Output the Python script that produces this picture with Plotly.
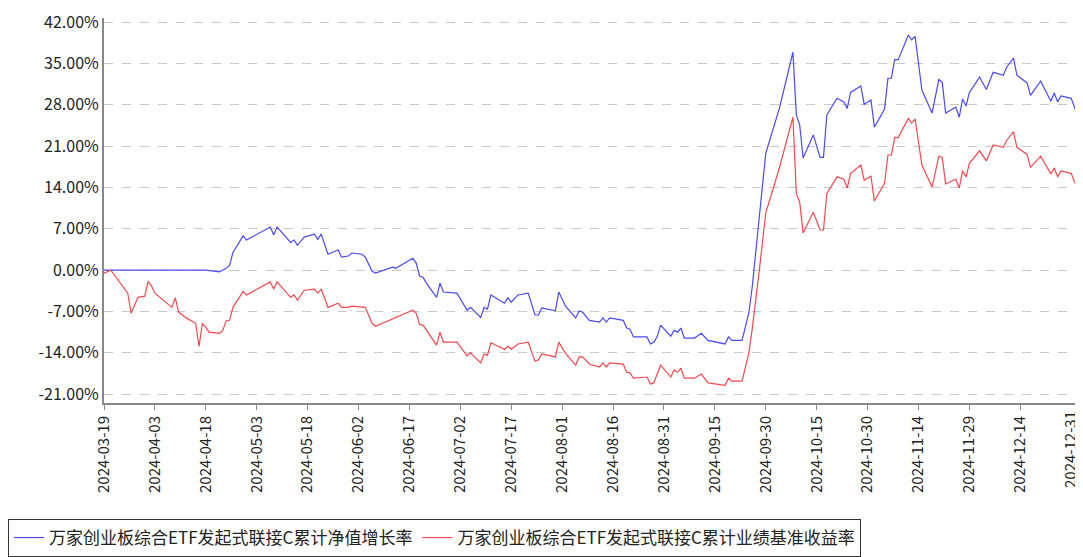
import plotly.graph_objects as go

blue_dates = ["2024-03-19","2024-04-18","2024-04-22","2024-04-24","2024-04-25","2024-04-26","2024-04-29","2024-04-30",
"2024-05-07","2024-05-08","2024-05-09","2024-05-13","2024-05-14","2024-05-15","2024-05-17","2024-05-20","2024-05-21","2024-05-22",
"2024-05-24","2024-05-27","2024-05-28","2024-05-30","2024-05-31","2024-06-03","2024-06-04","2024-06-06","2024-06-07","2024-06-12",
"2024-06-13","2024-06-18","2024-06-19","2024-06-20","2024-06-21","2024-06-22","2024-06-25","2024-06-26","2024-06-27","2024-07-01",
"2024-07-04","2024-07-05","2024-07-08","2024-07-09","2024-07-10","2024-07-11","2024-07-15","2024-07-16","2024-07-17","2024-07-19",
"2024-07-22","2024-07-24","2024-07-25","2024-07-26","2024-07-30","2024-07-31","2024-08-02","2024-08-05","2024-08-06","2024-08-07",
"2024-08-09","2024-08-12","2024-08-13","2024-08-14","2024-08-15","2024-08-19","2024-08-20","2024-08-21","2024-08-22","2024-08-26",
"2024-08-27","2024-08-28","2024-08-29","2024-08-30","2024-09-02","2024-09-03","2024-09-04","2024-09-05","2024-09-06","2024-09-09",
"2024-09-11","2024-09-13","2024-09-18","2024-09-19","2024-09-20","2024-09-23","2024-09-25","2024-09-26","2024-09-28","2024-09-30",
"2024-10-04","2024-10-08","2024-10-09","2024-10-10","2024-10-11","2024-10-14","2024-10-16","2024-10-17","2024-10-18","2024-10-21",
"2024-10-23","2024-10-24","2024-10-25","2024-10-28","2024-10-29","2024-10-31","2024-11-01","2024-11-04","2024-11-05","2024-11-06",
"2024-11-07","2024-11-08","2024-11-11","2024-11-12","2024-11-13","2024-11-15","2024-11-18","2024-11-20","2024-11-21","2024-11-22",
"2024-11-25","2024-11-26","2024-11-27","2024-11-28","2024-11-29","2024-12-02","2024-12-04","2024-12-06","2024-12-09","2024-12-10",
"2024-12-12","2024-12-13","2024-12-16","2024-12-17","2024-12-20","2024-12-23","2024-12-24","2024-12-25","2024-12-26","2024-12-29","2024-12-31"]
blue_vals = [0,0,-0.3,0.3,0.8,3.0,5.8,5.1,
7.3,6.0,7.3,4.7,5.1,4.2,5.6,6.1,5.2,6.1,
2.7,3.4,2.2,2.4,2.9,2.7,2.2,-0.2,-0.5,0.5,
0.3,2.0,1.2,-1.0,-1.2,-2.2,-4.6,-2.2,-3.7,-3.9,
-6.8,-6.3,-8.0,-6.3,-6.6,-4.2,-5.6,-4.7,-5.4,-4.2,
-3.9,-7.6,-7.6,-6.4,-6.9,-3.7,-6.1,-8.1,-6.9,-7.1,
-8.5,-8.8,-8.1,-8.8,-8.1,-8.5,-9.8,-10.0,-11.3,-11.3,
-12.5,-12.2,-11.3,-9.3,-11.2,-10.2,-10.5,-9.8,-11.5,-11.5,
-10.7,-11.9,-12.5,-11.3,-11.9,-11.9,-7.3,-2.9,8.5,19.8,
27.4,36.9,26.3,24.6,19.0,22.9,19.1,19.1,26.3,29.1,
28.5,27.4,30.1,31.2,28.1,28.8,24.2,27.3,32.5,32.5,
35.7,35.6,39.8,39.0,39.6,30.5,26.6,32.3,31.8,26.6,
27.6,25.9,29.0,27.8,30.1,32.7,30.6,33.5,33.0,34.4,
35.9,33.0,31.7,29.6,32.0,28.6,30.0,28.5,29.5,29.1,26.0]

red_dates = ["2024-03-19","2024-03-21","2024-03-26","2024-03-27","2024-03-29","2024-03-31","2024-04-01","2024-04-02","2024-04-03",
"2024-04-08","2024-04-09","2024-04-10","2024-04-12","2024-04-15","2024-04-16","2024-04-17","2024-04-18","2024-04-19","2024-04-22",
"2024-04-23","2024-04-24","2024-04-25","2024-04-26","2024-04-29","2024-04-30",
"2024-05-07","2024-05-08","2024-05-09","2024-05-13","2024-05-14","2024-05-15","2024-05-17","2024-05-20","2024-05-21","2024-05-22",
"2024-05-24","2024-05-27","2024-05-28","2024-05-30","2024-05-31","2024-06-04","2024-06-06","2024-06-07","2024-06-12",
"2024-06-18","2024-06-19","2024-06-20","2024-06-21","2024-06-25","2024-06-26","2024-06-27","2024-07-01",
"2024-07-04","2024-07-05","2024-07-08","2024-07-09","2024-07-10","2024-07-11","2024-07-15","2024-07-16","2024-07-17","2024-07-19",
"2024-07-22","2024-07-24","2024-07-25","2024-07-26","2024-07-30","2024-07-31","2024-08-02","2024-08-05","2024-08-06","2024-08-07",
"2024-08-09","2024-08-12","2024-08-13","2024-08-14","2024-08-15","2024-08-19","2024-08-20","2024-08-21","2024-08-22","2024-08-26",
"2024-08-27","2024-08-28","2024-08-30","2024-09-02","2024-09-03","2024-09-04","2024-09-05","2024-09-06","2024-09-09",
"2024-09-11","2024-09-13","2024-09-18","2024-09-19","2024-09-20","2024-09-23","2024-09-25","2024-09-26","2024-09-28","2024-09-30",
"2024-10-04","2024-10-08","2024-10-09","2024-10-10","2024-10-11","2024-10-14","2024-10-16","2024-10-17","2024-10-18","2024-10-21",
"2024-10-23","2024-10-24","2024-10-25","2024-10-28","2024-10-29","2024-10-31","2024-11-01","2024-11-04","2024-11-05","2024-11-06",
"2024-11-07","2024-11-08","2024-11-11","2024-11-12","2024-11-13","2024-11-15","2024-11-18","2024-11-20","2024-11-21","2024-11-22",
"2024-11-25","2024-11-26","2024-11-27","2024-11-28","2024-11-29","2024-12-02","2024-12-04","2024-12-06","2024-12-09","2024-12-10",
"2024-12-12","2024-12-13","2024-12-16","2024-12-17","2024-12-20","2024-12-23","2024-12-24","2024-12-25","2024-12-26","2024-12-29","2024-12-31"]
red_vals = [-0.5,0,-3.9,-7.3,-4.6,-4.4,-1.9,-2.7,-3.9,
-6.3,-4.7,-7.1,-8.0,-9.0,-12.9,-9.0,-9.7,-10.5,-10.7,
-10.2,-8.6,-8.5,-6.3,-3.6,-4.2,
-2.0,-3.2,-2.0,-4.6,-4.2,-5.1,-3.4,-3.2,-3.9,-3.2,
-6.3,-5.6,-6.3,-6.3,-6.1,-6.3,-9.0,-9.5,-8.3,
-6.8,-7.3,-9.2,-9.3,-12.7,-10.5,-12.2,-12.2,
-14.5,-14.0,-15.7,-14.2,-14.4,-12.3,-13.4,-12.9,-13.4,-12.5,
-12.2,-15.4,-15.2,-14.2,-14.7,-12.2,-14.1,-16.1,-14.7,-14.7,
-15.9,-16.4,-15.7,-16.4,-15.7,-15.9,-17.3,-17.4,-18.3,-18.1,
-19.3,-19.1,-16.1,-18.1,-16.9,-17.3,-16.6,-18.3,-18.3,
-17.6,-19.1,-19.5,-18.3,-18.8,-18.8,-14.1,-10.0,-0.5,9.7,
17.3,25.9,13.0,11.5,6.3,9.8,6.8,6.8,13.0,15.8,
15.4,13.9,16.4,17.8,15.2,15.9,11.7,14.7,19.5,19.5,
22.5,22.4,25.7,24.9,25.6,17.8,14.1,19.3,19.1,14.6,
15.4,13.9,16.8,15.8,18.1,20.2,18.5,21.2,20.8,22.0,
23.4,20.8,19.6,17.4,19.3,16.3,17.3,15.8,16.8,16.4,13.4]

x_ticks = ["2024-03-19","2024-04-03","2024-04-18","2024-05-03","2024-05-18","2024-06-02","2024-06-17","2024-07-02",
"2024-07-17","2024-08-01","2024-08-16","2024-08-31","2024-09-15","2024-09-30","2024-10-15","2024-10-30",
"2024-11-14","2024-11-29","2024-12-14","2024-12-31"]
y_ticks = [-21, -14, -7, 0, 7, 14, 21, 28, 35, 42]

name_blue = "万家创业板综合ETF发起式联接C累计净值增长率"
name_red = "万家创业板综合ETF发起式联接C累计业绩基准收益率"

fig = go.Figure()
fig.add_trace(go.Scatter(x=blue_dates, y=blue_vals, mode="lines", name=name_blue,
                         line=dict(color="#4a4af5", width=1.2)))
fig.add_trace(go.Scatter(x=red_dates, y=red_vals, mode="lines", name=name_red,
                         line=dict(color="#f5484e", width=1.2)))

fig.update_layout(
    width=1075, height=549, plot_bgcolor="white", paper_bgcolor="white",
    margin=dict(l=96, r=5, t=10, b=154, autoexpand=False),
    font=dict(family="Noto Sans CJK SC", size=15, color="#222"),
    showlegend=True,
    legend=dict(orientation="h", xref="container", yref="container", x=0.0, y=0.0,
                xanchor="left", yanchor="bottom", bordercolor="#333", borderwidth=1,
                font=dict(size=17), itemwidth=30, tracegroupgap=0),
    xaxis=dict(type="date", range=["2024-03-19", "2024-12-31"], tickvals=x_ticks,
               ticktext=x_ticks[:-1] + [""], tickangle=-90, showgrid=False, showline=True,
               linecolor="#888", linewidth=2, ticks="outside", ticklen=5, tickcolor="#888",
               tickfont=dict(size=15), automargin=False),
    yaxis=dict(range=[-22.5, 42.7], tickvals=y_ticks, ticktext=[f"{v:.2f}%" for v in y_ticks],
               showgrid=True, gridcolor="#c8c8c8", griddash="dash", showline=True,
               linecolor="#888", linewidth=2, zeroline=False, tickfont=dict(size=16), automargin=False),
)
fig.add_annotation(x=x_ticks[-1], xref="x", y=0, yref="paper", text=x_ticks[-1], showarrow=False,
                   textangle=-90, xanchor="right", yanchor="top", yshift=-6, xshift=4,
                   font=dict(size=15, color="#222"))
fig.add_shape(type="line", xref="paper", yref="paper", x0=1, x1=1, y0=0, y1=1,
              line=dict(color="#888", width=1))
fig.write_html("out.html")
